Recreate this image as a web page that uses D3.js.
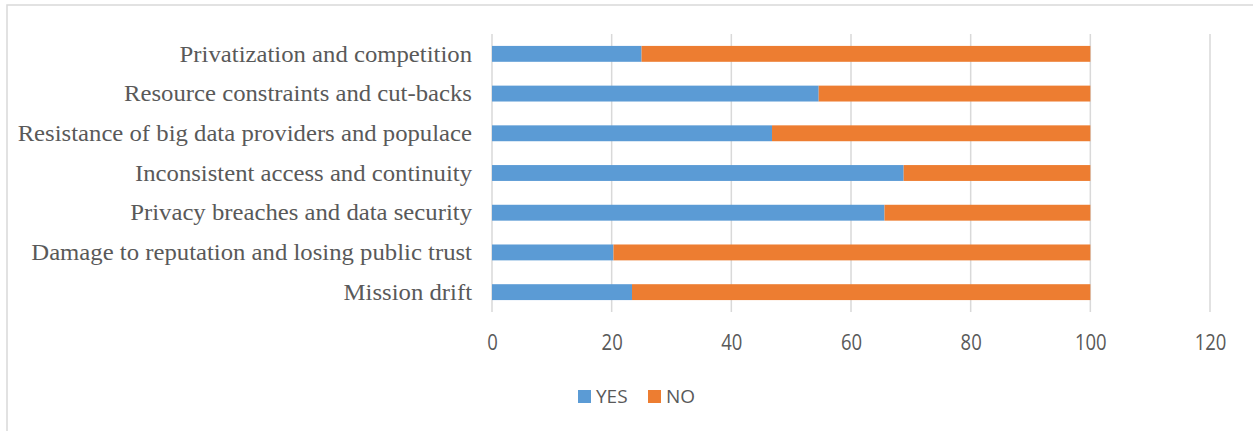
<!DOCTYPE html>
<html>
<head>
<meta charset="utf-8">
<script src="https://cdn.jsdelivr.net/npm/d3@7"></script>
<style>
  html, body { margin: 0; padding: 0; background: #fff; }
  svg { display: block; }
</style>
</head>
<body>
<svg id="chart" width="1253" height="431"></svg>
<script>
// Barriers to big-data use: share of respondents answering YES / NO (%)
const categories = [
  "Privatization and competition",
  "Resource constraints and cut-backs",
  "Resistance of big data providers and populace",
  "Inconsistent access and continuity",
  "Privacy breaches and data security",
  "Damage to reputation and losing public trust",
  "Mission drift"
];
const yesValues = [25, 54.6, 46.8, 68.8, 65.6, 20.3, 23.4];
const noValues  = [75, 45.4, 53.2, 31.2, 34.4, 79.7, 76.6];
const seriesNames = ["YES", "NO"];
const xTicks = [0, 20, 40, 60, 80, 100, 120];

const colors = { YES: "#5b9bd5", NO: "#ed7d31" };

const svg = d3.select("#chart");
const W = 1253, H = 431;

// outer frame
svg.append("rect")
  .attr("x", 7).attr("y", 5)
  .attr("width", W + 10).attr("height", H + 10)
  .attr("fill", "none").attr("stroke", "#d9d9d9").attr("stroke-width", 1.5);

const plot = { left: 492, right: 1210, top: 34, bottom: 312 };

const x = d3.scaleLinear().domain([0, 120]).range([plot.left, plot.right]);
const y = d3.scaleBand().domain(categories)
  .range([plot.top, plot.bottom])
  .paddingInner(0.6).paddingOuter(0.3);

// vertical gridlines
svg.append("g").selectAll("line").data(xTicks).join("line")
  .attr("x1", d => x(d)).attr("x2", d => x(d))
  .attr("y1", plot.top).attr("y2", plot.bottom)
  .attr("stroke", "#d9d9d9").attr("stroke-width", 1.5);

// stacked bars
const rows = categories.map((c, i) => ({ cat: c, YES: yesValues[i], NO: noValues[i] }));
const stacked = d3.stack().keys(seriesNames)(rows);

svg.append("g").selectAll("g").data(stacked).join("g")
  .attr("fill", s => colors[s.key])
  .selectAll("rect").data(s => s).join("rect")
  .attr("x", d => x(d[0]))
  .attr("width", d => x(d[1]) - x(d[0]))
  .attr("y", d => y(d.data.cat))
  .attr("height", y.bandwidth());

// category labels (right-aligned left of the bars)
const yAxis = svg.append("g").attr("transform", `translate(${plot.left - 20},0)`)
  .call(d3.axisLeft(y).tickSize(0).tickPadding(0));
yAxis.select(".domain").remove();
yAxis.selectAll("text")
  .attr("font-family", "'Liberation Serif', 'Times New Roman', serif")
  .attr("font-size", 24)
  .attr("fill", "#595959")
  .attr("x", 0)
  .attr("dy", "0.32em")
  .attr("transform", "scale(1.03,1)");

// x axis tick labels
const xAxis = svg.append("g").attr("transform", `translate(0,${plot.bottom})`)
  .call(d3.axisBottom(x).tickValues(xTicks).tickSize(0).tickPadding(23));
xAxis.select(".domain").remove();
xAxis.selectAll("text")
  .attr("font-family", "'Open Sans', 'Liberation Sans', sans-serif")
  .attr("font-size", 21)
  .attr("fill", "#595959")
  .attr("transform", "scale(0.88,1)");

// legend
const legend = svg.append("g").attr("transform", "translate(578,390)");
const items = [
  { key: "YES", x: 0 },
  { key: "NO", x: 70 }
];
items.forEach(it => {
  const g = legend.append("g").attr("transform", `translate(${it.x},0)`);
  g.append("rect").attr("width", 13).attr("height", 13).attr("fill", colors[it.key]);
  g.append("text")
    .attr("x", 18).attr("y", 13)
    .attr("font-family", "'Open Sans', 'Liberation Sans', sans-serif")
    .attr("font-size", 19)
    .attr("fill", "#595959")
    .text(it.key);
});
</script>
</body>
</html>
